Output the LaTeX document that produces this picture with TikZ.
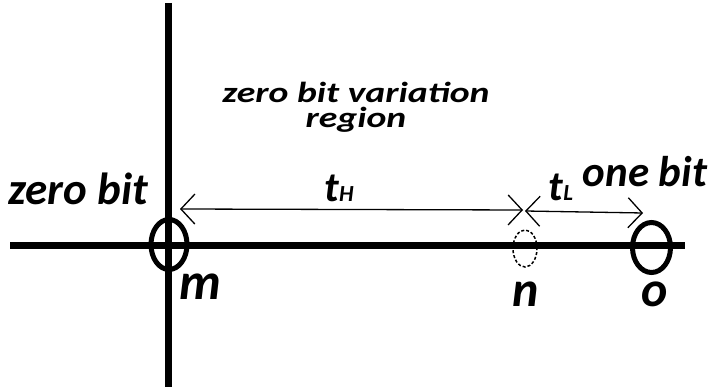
\documentclass[tikz,border=0pt]{standalone}
\usepackage{fontspec}
\setmainfont{Carlito}
\usetikzlibrary{arrows.meta,shapes.geometric}
\begin{document}
\begin{tikzpicture}[x=1pt,y=-1pt,
  lbl/.style={font=\bfseries\itshape, inner sep=0pt, anchor=base},
  axisline/.style={line width=7pt},
  ring/.style={draw, ellipse, inner sep=0pt, line width=5pt},
  dring/.style={draw, ellipse, inner sep=0pt, line width=1.5pt, dash pattern=on 3pt off 2pt},
  dim/.style={line width=1.3pt, {Straight Barb[length=14pt,width=30pt]}-{Straight Barb[length=14pt,width=30pt]}}]
\useasboundingbox (0,0) rectangle (713,387);
\coordinate (vtop) at (168,3);
\coordinate (vbot) at (168,387);
\coordinate (hl) at (10,246);
\coordinate (hr) at (685,246);
\draw[axisline] (vtop) -- (vbot);
\draw[axisline] (hl) -- (hr);
\node[ring, minimum width=36pt, minimum height=50pt] (m) at (169,244.5) {};
\node[ring, minimum width=38pt, minimum height=50pt] (o) at (651.5,247.5) {};
\node[dring, minimum width=24pt, minimum height=37pt] (n) at (525,248.5) {};
\coordinate (aL) at (180,209);
\coordinate (aR) at (523,210);
\coordinate (bL) at (525,211);
\coordinate (bR) at (643,213);
\draw[dim] (aL) -- (aR);
\draw[dim] (bL) -- (bR);
\node[lbl, font=\bfseries\itshape\fontsize{45}{45}\selectfont, anchor=base west] (zb) at (8,205) {zero bit};
\node[lbl, font=\bfseries\itshape\fontsize{43}{43}\selectfont] (ob) at (645,187) {one bit};
\node[lbl, align=center, font=\bfseries\itshape\fontsize{29}{25}\selectfont] (zv) at (356,128) {\scalebox{1.3}[1]{zero bit variation}\\\scalebox{1.3}[1]{region}};
\node[lbl, font=\bfseries\itshape\fontsize{42}{42}\selectfont] (th) at (339,202) {t{\fontsize{23}{23}\selectfont H}};
\node[lbl, font=\bfseries\itshape\fontsize{42}{42}\selectfont] (tl) at (561,201) {t{\fontsize{23}{23}\selectfont L}};
\node[lbl, font=\bfseries\itshape\fontsize{52}{52}\selectfont] (ml) at (200,300) {m};
\node[lbl, font=\bfseries\itshape\fontsize{50}{50}\selectfont] (nl) at (526,307) {n};
\node[lbl, font=\bfseries\itshape\fontsize{50}{50}\selectfont] (ol) at (655,307) {o};
\end{tikzpicture}
\end{document}
